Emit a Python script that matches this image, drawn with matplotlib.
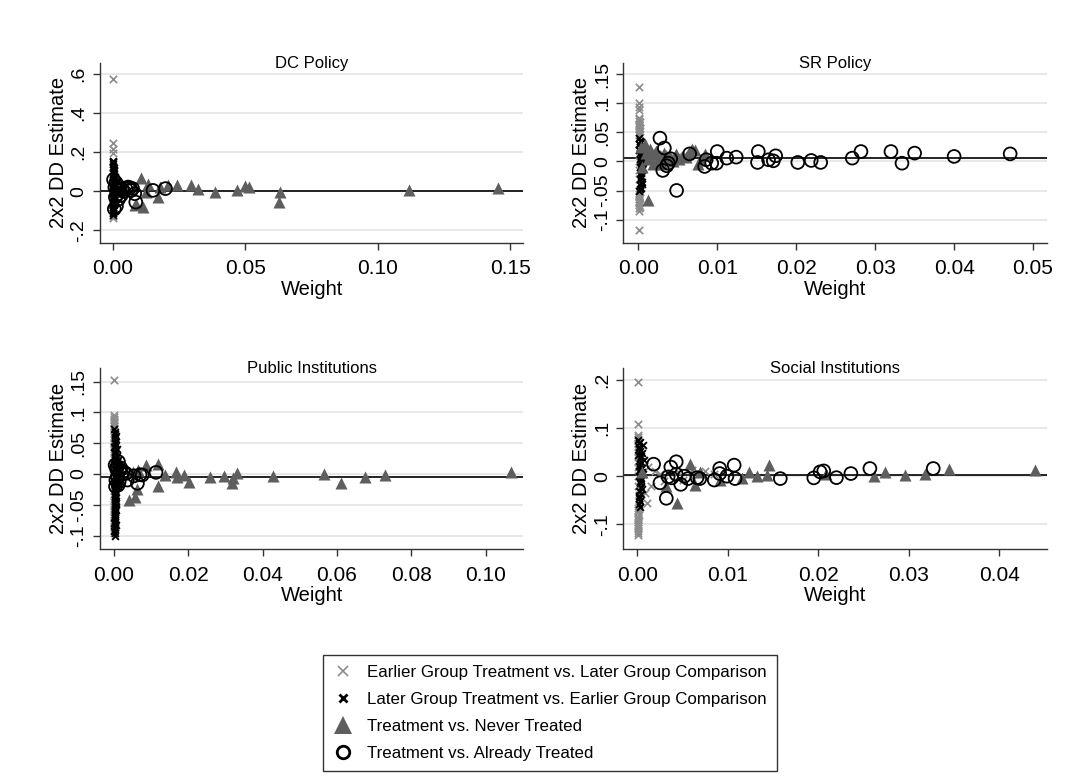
import matplotlib
matplotlib.use('Agg')
import matplotlib.pyplot as plt
from matplotlib.lines import Line2D

plt.rcParams['font.family'] = ['Liberation Sans', 'DejaVu Sans']

# ── series labels and colours ────────────────
LABELS = ['Earlier Group Treatment vs. Later Group Comparison',
          'Later Group Treatment vs. Earlier Group Comparison',
          'Treatment vs. Never Treated',
          'Treatment vs. Already Treated']
PANEL_TITLES = ['DC Policy', 'SR Policy', 'Public Institutions', 'Social Institutions']
GRAY_X = '#8c8c8c'
TRI_COLOR = '#5e5e5e'

# ── DC Policy ────────────────────────────────
dc_early_w = [0.00003, 0.00005, 0.00004, 0.00002, 0.00006, 0.00003, 0.00008, 0.00004,
              0.00010, 0.00005, 0.00002, 0.00007, 0.00012, 0.00004, 0.00006, 0.00003,
              0.00009, 0.00005, 0.00011, 0.00004, 0.00006, 0.00003, 0.00005, 0.00004]
dc_early_y = [0.574, 0.245, 0.214, 0.195, 0.150, 0.130, 0.110, 0.090, 0.070, 0.050,
              0.040, 0.030, 0.020, 0.010, 0.000, -0.010, -0.020, -0.030, -0.050, -0.070,
              -0.090, -0.110, -0.125, -0.138]
dc_late_w = [0.00010, 0.00020, 0.00015, 0.00030, 0.00012, 0.00025, 0.00040, 0.00018,
             0.00035, 0.00050, 0.00022, 0.00045, 0.00060, 0.00028, 0.00038, 0.00016,
             0.00042, 0.00055, 0.00020, 0.00033, 0.00014, 0.00026,
             0.00020, 0.00050, 0.00030, 0.00070, 0.00010, 0.00040, 0.00060, 0.00020,
             0.00080, 0.00030, 0.00050, 0.00010, 0.00040, 0.00070, 0.00020]
dc_late_y = [0.155, 0.140, 0.125, 0.110, 0.095, 0.080, 0.065, 0.050, 0.040, 0.030,
             0.020, 0.010, 0.000, -0.010, -0.020, -0.035, -0.050, -0.065, -0.080,
             -0.095, -0.110, -0.120,
             0.148, 0.118, 0.102, 0.072, 0.058, 0.045, 0.025, 0.015, 0.005, -0.005,
             -0.015, -0.028, -0.042, -0.058, -0.072]
dc_never_w = [0.0083, 0.0089, 0.0106, 0.0115, 0.0127, 0.0133, 0.0170, 0.0177, 0.0210,
              0.0243, 0.0297, 0.0322, 0.0387, 0.0467, 0.0498, 0.0515, 0.0628, 0.0630,
              0.1117, 0.1454]
dc_never_y = [-0.072, -0.063, 0.068, -0.082, -0.003, 0.040, -0.030, 0.022, 0.031,
              0.031, 0.031, 0.012, -0.003, 0.005, 0.026, 0.022, -0.055, -0.003,
              0.005, 0.017]
dc_already_w = [0.0003, 0.0006, 0.0008, 0.0010, 0.0012, 0.0014, 0.0016, 0.0018, 0.0020,
                0.0022, 0.0025, 0.0028, 0.0032, 0.0036, 0.0042, 0.0050, 0.0058, 0.0065,
                0.0070, 0.0075, 0.0083, 0.0087, 0.0152, 0.0199]
dc_already_y = [0.060, -0.090, 0.020, -0.030, 0.045, -0.075, 0.010, -0.015, 0.030,
                -0.040, 0.005, 0.015, -0.020, 0.008, 0.000, 0.012, 0.022, 0.018,
                0.005, 0.014, -0.012, -0.055, 0.005, 0.014]
dc_overall = 0.001

# ── SR Policy ────────────────────────────────
sr_early_w = [0.00003, 0.00005, 0.00004, 0.00006, 0.00008, 0.00004, 0.00010, 0.00005,
              0.00012, 0.00007, 0.00015, 0.00009, 0.00020, 0.00011, 0.00025, 0.00014,
              0.00030, 0.00018, 0.00022, 0.00012, 0.00028, 0.00016, 0.00010, 0.00024,
              0.00008, 0.00019, 0.00006, 0.00013, 0.00009, 0.00005, 0.00011, 0.00004,
              0.00007, 0.00003, 0.00004,
              0.00012, 0.00020, 0.00008, 0.00016, 0.00024, 0.00010, 0.00018, 0.00006,
              0.00014, 0.00022,
              0.0006, 0.0009, 0.0012, 0.0015, 0.0019, 0.0023, 0.0027, 0.0031, 0.0036,
              0.0041, 0.0046, 0.0052, 0.0058]
sr_early_y = [0.127, 0.100, 0.094, 0.088, 0.075, 0.070, 0.065, 0.060, 0.055, 0.050,
              0.045, 0.040, 0.035, 0.030, 0.025, 0.020, 0.015, 0.010, 0.005, 0.000,
              -0.005, -0.010, -0.015, -0.020, -0.030, -0.040, -0.050, -0.055, -0.060,
              -0.065, -0.070, -0.075, -0.080, -0.085, -0.117,
              0.072, 0.067, 0.062, 0.057, 0.052, 0.047, -0.062, -0.067, -0.072, -0.078,
              0.012, 0.004, 0.015, 0.008, 0.002, 0.010, 0.006, 0.013, 0.003, 0.009,
              0.005, 0.011, 0.007]
sr_late_w = [0.00010, 0.00020, 0.00015, 0.00030, 0.00012, 0.00025, 0.00040, 0.00018,
             0.00035, 0.00050, 0.00022, 0.00045, 0.00028, 0.00038, 0.00016, 0.00042,
             0.00020, 0.00033, 0.00014,
             0.00030, 0.00050, 0.00020, 0.00040, 0.00060, 0.00030, 0.00050, 0.00020]
sr_late_y = [0.040, 0.035, 0.030, 0.025, 0.020, 0.015, 0.010, 0.005, 0.000, -0.005,
             -0.010, -0.015, -0.020, -0.025, -0.030, -0.035, -0.040, -0.045, -0.050,
             0.033, 0.022, 0.012, -0.002, -0.012, -0.028, -0.038, -0.047]
sr_never_w = [0.0003, 0.0005, 0.0008, 0.0010, 0.0012, 0.0012, 0.0015, 0.0018, 0.0020,
              0.0022, 0.0025, 0.0028, 0.0030, 0.0033, 0.0036, 0.0040, 0.0044, 0.0048,
              0.0052, 0.0056, 0.0060, 0.0064, 0.0068, 0.0072, 0.0076, 0.0080, 0.0084]
sr_never_y = [0.025, -0.010, 0.030, 0.015, -0.066, 0.005, 0.022, -0.005, 0.012, 0.018,
              0.002, 0.010, -0.004, 0.014, 0.006, 0.008, 0.001, 0.012, 0.004, 0.010,
              0.007, 0.016, 0.021, 0.019, -0.005, 0.003, 0.012]
sr_already_w = [0.00274, 0.0033, 0.0031, 0.0036, 0.0038, 0.0041, 0.00485, 0.0065,
                0.0084, 0.0086, 0.0093, 0.0099, 0.0100, 0.0112, 0.0124, 0.0152, 0.0151,
                0.0165, 0.0171, 0.0174, 0.0202, 0.0219, 0.0231, 0.0271, 0.0282, 0.0320,
                0.0334, 0.0350, 0.0400, 0.0471]
sr_already_y = [0.040, 0.023, -0.0154, -0.0074, -0.003, 0.0046, -0.0497, 0.013,
                -0.0086, 0.003, -0.003, -0.003, 0.017, 0.0057, 0.0074, 0.017, -0.0017,
                0.0029, 0.0011, 0.0097, -0.0017, 0.0017, -0.0017, 0.0057, 0.017, 0.017,
                -0.003, 0.0143, 0.0086, 0.013]
sr_overall = 0.006

# ── Public Institutions ──────────────────────
pub_early_w = [0.00003, 0.00005, 0.00004, 0.00006, 0.00008, 0.00004, 0.00010, 0.00005,
               0.00012, 0.00007, 0.00015, 0.00009, 0.00020, 0.00011, 0.00025, 0.00014,
               0.00018, 0.00022, 0.00012, 0.00016, 0.00010, 0.00008, 0.00006, 0.00009,
               0.00005, 0.00004, 0.00003,
               0.00006, 0.00010, 0.00004, 0.00012, 0.00008, 0.00014, 0.00005, 0.00009,
               0.00011, 0.00007, 0.00013, 0.00006, 0.00010, 0.00004, 0.00012, 0.00008,
               0.00005, 0.00011, 0.00007, 0.00009, 0.00006, 0.00010, 0.00004, 0.00008,
               0.00005]
pub_early_y = [0.152, 0.096, 0.090, 0.085, 0.078, 0.070, 0.062, 0.055, 0.048, 0.040,
               0.032, 0.024, 0.016, 0.008, 0.000, -0.008, -0.016, -0.024, -0.032,
               -0.040, -0.048, -0.056, -0.064, -0.072, -0.080, -0.088, -0.095,
               0.093, 0.087, 0.082, 0.074, 0.066, 0.058, 0.051, 0.044, 0.036, 0.028,
               0.020, 0.012, 0.004, -0.004, -0.012, -0.020, -0.028, -0.036, -0.044,
               -0.052, -0.060, -0.068, -0.076, -0.084, -0.091]
pub_late_w = [0.00010, 0.00020, 0.00015, 0.00030, 0.00012, 0.00025, 0.00040, 0.00060,
              0.00080, 0.00100, 0.00130, 0.00160, 0.00200, 0.00150, 0.00110, 0.00070,
              0.00045, 0.00028, 0.00038, 0.00016, 0.00042, 0.00020, 0.00033, 0.00014,
              0.00026, 0.00018, 0.00012, 0.00022, 0.00010, 0.00015,
              0.00030, 0.00060, 0.00020, 0.00050, 0.00080, 0.00040, 0.00070, 0.00100,
              0.00030, 0.00060, 0.00020, 0.00050, 0.00040, 0.00070, 0.00030, 0.00050,
              0.00020, 0.00060, 0.00040, 0.00020, 0.00050, 0.00030, 0.00060, 0.00020,
              0.00040, 0.00030, 0.00050, 0.00020, 0.00030]
pub_late_y = [0.073, 0.065, 0.058, 0.050, 0.044, 0.038, 0.032, 0.026, 0.020, 0.015,
              0.010, 0.005, 0.000, -0.005, -0.010, -0.015, -0.020, -0.026, -0.032,
              -0.038, -0.044, -0.050, -0.056, -0.062, -0.068, -0.074, -0.080, -0.086,
              -0.092, -0.100,
              0.069, 0.061, 0.054, 0.047, 0.041, 0.035, 0.029, 0.023, 0.017, 0.012,
              0.007, 0.002, -0.003, -0.008, -0.013, -0.018, -0.023, -0.029, -0.035,
              -0.041, -0.047, -0.053, -0.059, -0.065, -0.071, -0.077, -0.083, -0.089,
              -0.095]
pub_never_w = [0.0039, 0.0052, 0.0057, 0.0061, 0.0065, 0.0086, 0.0117, 0.0117, 0.0137,
               0.0167, 0.0170, 0.0188, 0.0202, 0.0258, 0.0296, 0.0317, 0.0319, 0.0330,
               0.0429, 0.0565, 0.0610, 0.0675, 0.0729, 0.1067]
pub_never_y = [-0.042, 0.0038, -0.037, -0.025, 0.0065, 0.0146, 0.017, -0.0195,
               -0.0016, 0.004, -0.005, -0.0016, -0.0124, -0.0054, -0.0032, -0.015,
               -0.007, 0.002, -0.0027, 0.000, -0.014, -0.0043, -0.0016, 0.0038]
pub_already_w = [0.0003, 0.0005, 0.0007, 0.0009, 0.0012, 0.0014, 0.0016, 0.0021,
                 0.0025, 0.0032, 0.0036, 0.0054, 0.0063, 0.0070, 0.0076, 0.0113,
                 0.0004, 0.0008, 0.0011, 0.0018]
pub_already_y = [0.0146, -0.010, 0.008, -0.004, 0.020, -0.012, 0.0065, 0.000,
                 0.004, 0.001, -0.0097, -0.003, -0.015, -0.001, -0.0016, 0.0027,
                 -0.020, 0.012, -0.018, 0.010]
pub_overall = -0.004

# ── Social Institutions ──────────────────────
soc_early_w = [0.00003, 0.00005, 0.00004, 0.00006, 0.00008, 0.00004, 0.00010, 0.00005,
               0.00012, 0.00007, 0.00015, 0.00009, 0.00020, 0.00011, 0.00025, 0.00014,
               0.00018, 0.00022, 0.00012, 0.00016, 0.00010, 0.00008, 0.00006, 0.00009,
               0.00005, 0.00004,
               0.00006, 0.00010, 0.00004, 0.00012, 0.00008, 0.00005, 0.00009, 0.00007,
               0.0011, 0.0008, 0.0015, 0.0020, 0.0025, 0.0030, 0.0045, 0.0050, 0.0060,
               0.0075, 0.0085, 0.0012]
soc_early_y = [0.196, 0.108, 0.085, 0.078, 0.070, 0.060, 0.050, 0.040, 0.030, 0.020,
               0.010, 0.000, -0.010, -0.020, -0.030, -0.040, -0.050, -0.060, -0.070,
               -0.080, -0.088, -0.095, -0.100, -0.108, -0.115, -0.122,
               0.082, 0.066, -0.066, -0.075, -0.084, -0.092, -0.104, -0.118,
               -0.055, -0.035, -0.020, 0.010, 0.005, -0.010, 0.008, -0.008, 0.012,
               0.010, 0.005, 0.020]
soc_late_w = [0.00010, 0.00020, 0.00015, 0.00030, 0.00012, 0.00025, 0.00040, 0.00018,
              0.00035, 0.00050, 0.00022, 0.00045, 0.00028, 0.00038, 0.00016, 0.00042,
              0.00020, 0.00033, 0.00014, 0.00026,
              0.00030, 0.00060, 0.00020, 0.00050, 0.00040, 0.00070, 0.00030, 0.00050,
              0.00020, 0.00060, 0.00040, 0.00030, 0.00050, 0.00020]
soc_late_y = [0.075, 0.068, 0.060, 0.052, 0.045, 0.038, 0.030, 0.022, 0.015, 0.008,
              0.000, -0.008, -0.015, -0.022, -0.030, -0.038, -0.045, -0.052, -0.058,
              -0.065,
              0.071, 0.064, 0.056, 0.048, 0.041, 0.034, 0.026, 0.018, 0.011, 0.004,
              -0.004, -0.012, -0.026, -0.041]
soc_never_w = [0.0005, 0.0032, 0.0044, 0.0058, 0.0064, 0.0069, 0.0091, 0.0116, 0.0123,
               0.0132, 0.0143, 0.0145, 0.0209, 0.0262, 0.0274, 0.0296, 0.0318, 0.0344,
               0.0439]
soc_never_y = [0.009, -0.021, -0.055, 0.026, -0.019, 0.009, -0.008, -0.0035, 0.009,
               0.000, 0.002, 0.023, 0.0055, 0.000, 0.009, 0.002, 0.0055, 0.0145,
               0.0125]
soc_already_w = [0.0018, 0.0025, 0.0032, 0.0034, 0.0037, 0.0038, 0.0043, 0.0043,
                 0.0048, 0.0052, 0.0056, 0.0066, 0.0069, 0.0085, 0.0091, 0.0091, 0.0099,
                 0.0107, 0.0108, 0.0158, 0.0195, 0.0202, 0.0206, 0.0220, 0.0236, 0.0257,
                 0.0327]
soc_already_y = [0.025, -0.0138, -0.046, -0.0014, 0.019, -0.0035, 0.030, 0.004,
                 -0.017, 0.000, -0.005, -0.003, -0.005, -0.008, 0.016, 0.0055, 0.000,
                 0.023, -0.005, -0.005, -0.0035, 0.009, 0.011, -0.003, 0.0055, 0.016,
                 0.016]
soc_overall = 0.0035

# ── axis setup per panel ─────────────────────
dc_xticks = [0.00, 0.05, 0.10, 0.15]
dc_xlabels = ['0.00', '0.05', '0.10', '0.15']
dc_yticks = [-0.2, 0.0, 0.2, 0.4, 0.6]
dc_ylabels = ['-.2', '0', '.2', '.4', '.6']

sr_xticks = [0.00, 0.01, 0.02, 0.03, 0.04, 0.05]
sr_xlabels = ['0.00', '0.01', '0.02', '0.03', '0.04', '0.05']
sr_yticks = [-0.1, -0.05, 0.0, 0.05, 0.1, 0.15]
sr_ylabels = ['-.1', '-.05', '0', '.05', '.1', '.15']

pub_xticks = [0.00, 0.02, 0.04, 0.06, 0.08, 0.10]
pub_xlabels = ['0.00', '0.02', '0.04', '0.06', '0.08', '0.10']
pub_yticks = [-0.1, -0.05, 0.0, 0.05, 0.1, 0.15]
pub_ylabels = ['-.1', '-.05', '0', '.05', '.1', '.15']

soc_xticks = [0.00, 0.01, 0.02, 0.03, 0.04]
soc_xlabels = ['0.00', '0.01', '0.02', '0.03', '0.04']
soc_yticks = [-0.1, 0.0, 0.1, 0.2]
soc_ylabels = ['-.1', '0', '.1', '.2']

panels = [
    dict(rect=[0.0925, 0.6891, 0.3916, 0.2301], xlim=(-0.0048, 0.1549), ylim=(-0.2615, 0.656),
         xt=dc_xticks, xl=dc_xlabels, yt=dc_yticks, yl=dc_ylabels,
         s=[(dc_early_w, dc_early_y), (dc_late_w, dc_late_y),
            (dc_never_w, dc_never_y), (dc_already_w, dc_already_y)], overall=dc_overall),
    dict(rect=[0.5766, 0.6891, 0.3922, 0.2301], xlim=(-0.0019, 0.0518), ylim=(-0.139, 0.1688),
         xt=sr_xticks, xl=sr_xlabels, yt=sr_yticks, yl=sr_ylabels,
         s=[(sr_early_w, sr_early_y), (sr_late_w, sr_late_y),
            (sr_never_w, sr_never_y), (sr_already_w, sr_already_y)], overall=sr_overall),
    dict(rect=[0.0925, 0.2958, 0.3916, 0.2324], xlim=(-0.00377, 0.1101), ylim=(-0.122, 0.172),
         xt=pub_xticks, xl=pub_xlabels, yt=pub_yticks, yl=pub_ylabels,
         s=[(pub_early_w, pub_early_y), (pub_late_w, pub_late_y),
            (pub_never_w, pub_never_y), (pub_already_w, pub_already_y)], overall=pub_overall),
    dict(rect=[0.5766, 0.2958, 0.3922, 0.2324], xlim=(-0.00155, 0.0453), ylim=(-0.152, 0.225),
         xt=soc_xticks, xl=soc_xlabels, yt=soc_yticks, yl=soc_ylabels,
         s=[(soc_early_w, soc_early_y), (soc_late_w, soc_late_y),
            (soc_never_w, soc_never_y), (soc_already_w, soc_already_y)], overall=soc_overall),
]

fig = plt.figure(figsize=(10.81, 7.80), dpi=100)
fig.patch.set_facecolor('white')

for title, p in zip(PANEL_TITLES, panels):
    ax = fig.add_axes(p['rect'])
    (ew, ey), (lw_, ly), (nw, ny), (aw, ay) = p['s']
    ax.scatter(ew, ey, marker='x', s=28, color=GRAY_X, linewidths=1.2, zorder=3)
    ax.scatter(lw_, ly, marker='x', s=24, color='black', linewidths=1.4, zorder=3)
    ax.scatter(nw, ny, marker='^', s=75, color=TRI_COLOR, linewidths=0, zorder=4)
    ax.scatter(aw, ay, marker='o', s=85, facecolors='none', edgecolors='black',
               linewidths=1.3, zorder=5)
    ax.axhline(p['overall'], color='black', lw=1.2, zorder=2)

    ax.set_xlim(*p['xlim'])
    ax.set_ylim(*p['ylim'])
    ax.set_xticks(p['xt'])
    ax.set_xticklabels(p['xl'], fontsize=15)
    ax.set_yticks(p['yt'])
    ax.set_yticklabels(p['yl'], fontsize=14, rotation=90, va='center')
    ax.yaxis.grid(True, color='#e8e8e8', lw=1.5)
    ax.set_axisbelow(True)
    for side in ('top', 'right'):
        ax.spines[side].set_visible(False)
    for side in ('left', 'bottom'):
        ax.spines[side].set_color('#333333')
        ax.spines[side].set_linewidth(1.0)
    ax.tick_params(direction='out', length=5, width=1, color='#333333')
    ax.tick_params(axis='x', pad=7)
    ax.tick_params(axis='y', pad=4)
    ax.set_xlabel('Weight', fontsize=14.5, labelpad=1)
    ax.set_ylabel('2x2 DD Estimate', fontsize=14.5, labelpad=2)
    # panel title sits on the top edge of the plot region
    ax.text(0.5, 1.0, title, transform=ax.transAxes, ha='center', va='center',
            fontsize=12)

handles = [
    Line2D([], [], ls='none', marker='x', ms=7, mew=1.2, color=GRAY_X),
    Line2D([], [], ls='none', marker='x', ms=6, mew=2.0, color='black'),
    Line2D([], [], ls='none', marker='^', ms=13, mew=0, color=TRI_COLOR),
    Line2D([], [], ls='none', marker='o', ms=9, mew=2.0, mfc='none', color='black'),
]
leg = fig.legend(handles, LABELS, loc='upper left', bbox_to_anchor=(0.2988, 0.1603),
                 fontsize=12.2, frameon=True, fancybox=False, borderpad=0.6,
                 labelspacing=0.7, handlelength=1.2, handletextpad=0.8,
                 borderaxespad=0)
leg.get_frame().set_edgecolor('black')
leg.get_frame().set_linewidth(1.0)

fig.savefig('out.png', dpi=100, facecolor='white')
